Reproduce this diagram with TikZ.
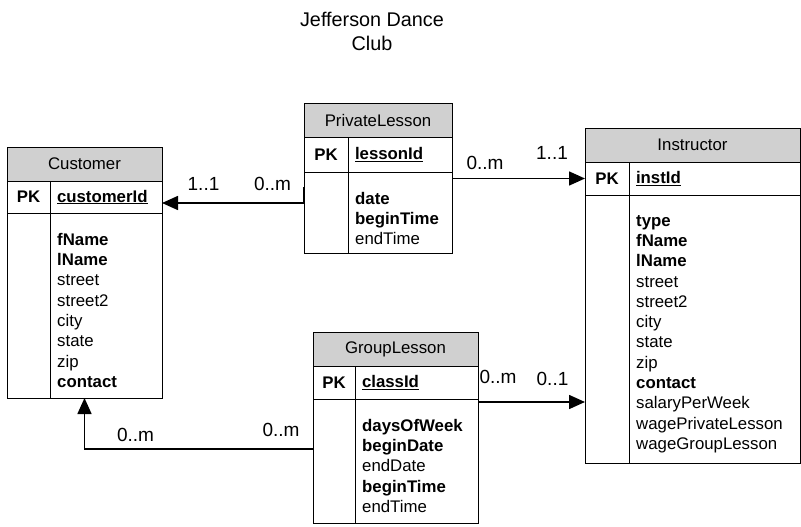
\documentclass[tikz,border=0pt]{standalone}
\usepackage{fontspec}
\setmainfont{Liberation Sans}
\usetikzlibrary{arrows.meta,positioning,calc}
\definecolor{hdrgray}{RGB}{208,208,208}
\newcommand{\tabfont}{\fontsize{16.8}{20.3}\selectfont}
\newcommand{\cardfont}{\fontsize{19}{24}\selectfont}

\begin{document}
\begin{tikzpicture}[x=1pt, y=-1pt,
    tbl/.style={draw, line width=0.8pt, inner sep=0pt, outer sep=0pt, anchor=north west, font=\tabfont},
    head/.style={tbl, fill=hdrgray, minimum height=34pt},
    pkcell/.style={tbl, font=\tabfont\bfseries},
    keycell/.style={tbl, align=left, inner xsep=7pt, font=\tabfont\bfseries},
    attrs/.style={anchor=north west, align=left, inner xsep=7pt, inner ysep=20pt, font=\tabfont},
    card/.style={inner sep=0pt, font=\cardfont},
    rel/.style={line width=1.6pt, -{Triangle[length=16pt,width=14pt]}}]
\useasboundingbox (0,0) rectangle (801,527);

\node[align=center, font=\fontsize{19.8}{24}\selectfont] (title) at (372,31) {Jefferson Dance\\Club};

% Customer
\node[head, minimum width=155pt] (cust) at (7,147) {Customer};
\node[pkcell, minimum width=43pt, minimum height=32pt] (cust-pk) at (cust.south west) {PK};
\node[keycell, text width=98pt, minimum height=32pt] (cust-key) at (cust-pk.north east) {\underline{customerId}};
\node[tbl, minimum width=43pt, minimum height=185pt] (cust-l) at (cust-pk.south west) {};
\node[tbl, minimum width=112pt, minimum height=185pt] (cust-r) at (cust-key.south west) {};
\node[attrs] (cust-at) at (cust-r.north west) {\textbf{fName}\\\textbf{lName}\\street\\street2\\city\\state\\zip\\\textbf{contact}};

% PrivateLesson
\node[head, minimum width=148pt] (pl) at (304,103) {PrivateLesson};
\node[pkcell, minimum width=44pt, minimum height=35pt] (pl-pk) at (pl.south west) {PK};
\node[keycell, text width=90pt, minimum height=35pt] (pl-key) at (pl-pk.north east) {\underline{lessonId}};
\node[tbl, minimum width=44pt, minimum height=81pt] (pl-l) at (pl-pk.south west) {};
\node[tbl, minimum width=104pt, minimum height=81pt] (pl-r) at (pl-key.south west) {};
\node[attrs] (pl-at) at (pl-r.north west) {\textbf{date}\\\textbf{beginTime}\\endTime};

% Instructor
\node[head, minimum width=215pt] (ins) at (585,128) {Instructor};
\node[pkcell, minimum width=44pt, minimum height=33pt] (ins-pk) at (ins.south west) {PK};
\node[keycell, text width=157pt, minimum height=33pt] (ins-key) at (ins-pk.north east) {\underline{instId}};
\node[tbl, minimum width=44pt, minimum height=268pt] (ins-l) at (ins-pk.south west) {};
\node[tbl, minimum width=171pt, minimum height=268pt] (ins-r) at (ins-key.south west) {};
\node[attrs] (ins-at) at (ins-r.north west) {\textbf{type}\\\textbf{fName}\\\textbf{lName}\\street\\street2\\city\\state\\zip\\\textbf{contact}\\salaryPerWeek\\wagePrivateLesson\\wageGroupLesson};

% GroupLesson
\node[head, minimum width=165pt] (gl) at (313,332) {GroupLesson};
\node[pkcell, minimum width=42pt, minimum height=33pt] (gl-pk) at (gl.south west) {PK};
\node[keycell, text width=109pt, minimum height=33pt] (gl-key) at (gl-pk.north east) {\underline{classId}};
\node[tbl, minimum width=42pt, minimum height=124pt] (gl-l) at (gl-pk.south west) {};
\node[tbl, minimum width=123pt, minimum height=124pt] (gl-r) at (gl-key.south west) {};
\node[attrs] (gl-at) at (gl-r.north west) {\textbf{daysOfWeek}\\\textbf{beginDate}\\endDate\\\textbf{beginTime}\\endTime};

% relationships
\draw[rel] ([yshift=-15pt]pl-l.north west) |- ([yshift=-6pt]cust-key.east);
\draw[rel] (ins-pk.west -| pl-r.east) -- (ins-pk.west);
\draw[rel] ([yshift=-3pt]gl-r.north east) -- ([yshift=-3pt]gl-r.north east -| ins-l.west);
\draw[rel] ([yshift=-50pt]gl-l.north west) -| (cust.south |- cust-l.south);

% cardinalities
\node[card] (c-cust-pl) at (203.5,184) {1..1};
\node[card] (c-pl-cust) at (272.5,184) {0..m};
\node[card] (c-pl-ins) at (485,163) {0..m};
\node[card] (c-ins-pl) at (552,153) {1..1};
\node[card] (c-gl-ins) at (498,377) {0..m};
\node[card] (c-ins-gl) at (552.5,379) {0..1};
\node[card] (c-cust-gl) at (135.5,435) {0..m};
\node[card] (c-gl-cust) at (281,430) {0..m};
\end{tikzpicture}
\end{document}
